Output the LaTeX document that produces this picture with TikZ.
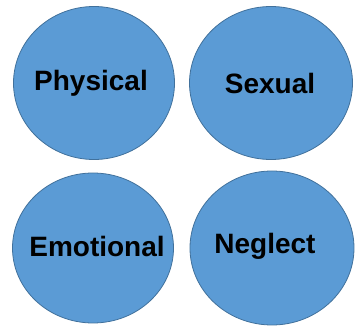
\documentclass[tikz,border=0pt]{standalone}
\usepackage{fontspec}
\setmainfont{Liberation Sans}
\usetikzlibrary{shapes.geometric}
\definecolor{bubblefill}{HTML}{5B9BD5}
\definecolor{bubbleline}{HTML}{41719C}
\begin{document}
\begin{tikzpicture}[x=1pt,y=-1pt,
  bubble/.style={ellipse,draw=bubbleline,line width=0.8pt,fill=bubblefill,
    minimum width=161pt,minimum height=153pt,inner sep=0pt},
  caption/.style={font=\fontsize{28}{30}\selectfont\bfseries,text=black,inner sep=0pt}]
  \useasboundingbox (0,0) rectangle (360,326);
  % four category bubbles
  \node[bubble] (physical) at (94,83) {};
  \node[bubble,minimum width=163pt] (sexual) at (271,83) {};
  \node[bubble,minimum height=150pt] (emotional) at (93,248) {};
  \node[bubble,minimum width=164pt,minimum height=154pt] (neglect) at (272,248) {};
  % their labels
  \node[caption] (physicaltext)  at (91,83)  {Physical};
  \node[caption] (sexualtext)    at (270,83) {Sexual};
  \node[caption] (emotionaltext) at (97,246) {Emotional};
  \node[caption] (neglecttext)   at (265,246) {Neglect};
\end{tikzpicture}
\end{document}
